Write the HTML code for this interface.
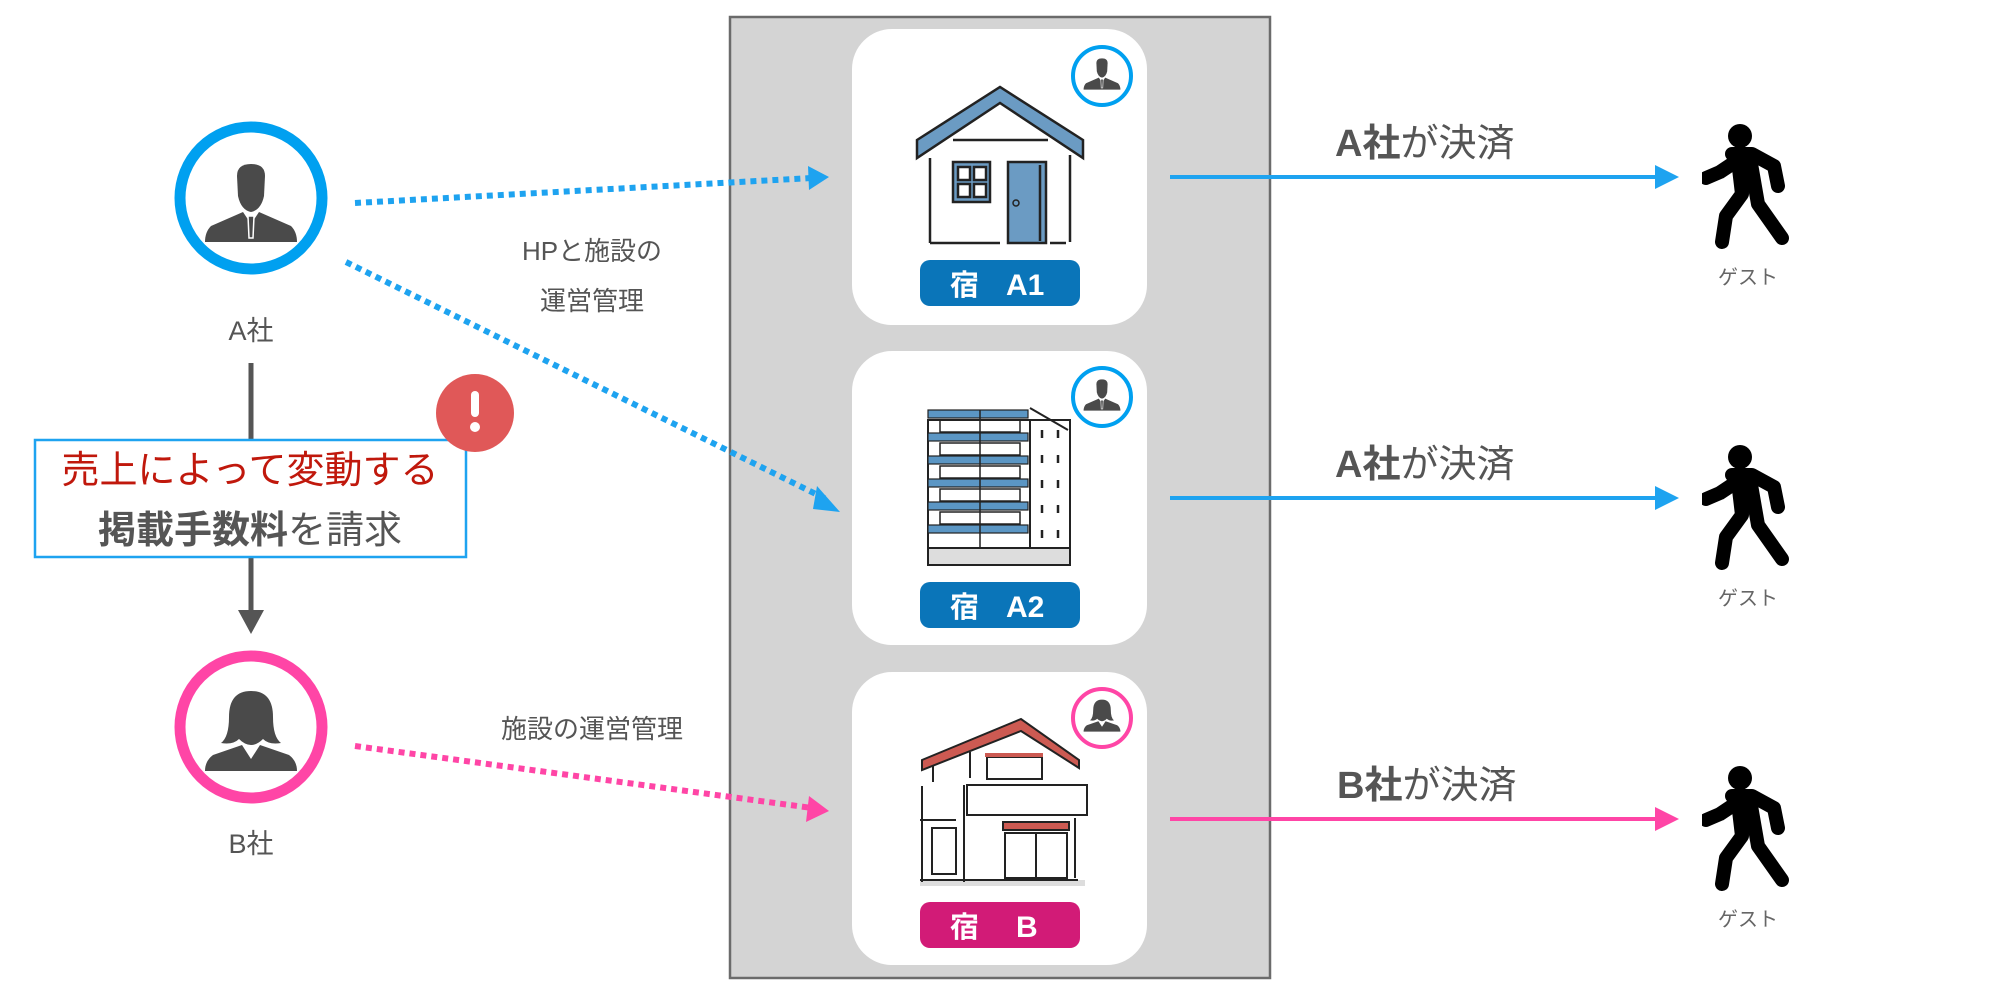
<!DOCTYPE html>
<html><head><meta charset="utf-8"><style>
html,body{margin:0;padding:0;background:#fff;}
svg{display:block;}
text{font-family:"Liberation Sans","Noto Sans CJK JP",sans-serif;}
</style></head><body>
<svg width="1999" height="997" viewBox="0 0 1999 997" xmlns="http://www.w3.org/2000/svg">
<defs>
<symbol id="man" viewBox="-50 -50 100 100">
<path d="M-14,-32 Q-14,-44 0,-44 Q14,-44 14,-32 L13,-12 Q10,2 0,4 Q-10,2 -13,-12 Z" fill="#4a4a4a"/>
<path d="M-8,4 L-40,18 Q-46,24 -46,34 L46,34 Q46,24 40,18 L8,4 L0,16 Z" fill="#4a4a4a"/>
<path d="M-3,8 L3,8 L2,30 L-2,30 Z" fill="#4a4a4a" stroke="#fff" stroke-width="1.5"/>
</symbol>
<symbol id="woman" viewBox="-50 -50 100 100">
<path d="M0,-46 Q-22,-46 -22,-20 Q-22,0 -30,6 Q-18,8 -12,2 Q-6,8 0,8 Q6,8 12,2 Q18,8 30,6 Q22,0 22,-20 Q22,-46 0,-46 Z" fill="#4a4a4a"/>
<path d="M-9,8 L-38,18 Q-46,24 -46,34 L46,34 Q46,24 38,18 L9,8 L0,22 Z" fill="#4a4a4a"/>
</symbol>
<symbol id="walker" viewBox="0 0 94 122">
<circle cx="38" cy="12" r="12" fill="#000"/>
<path d="M30,30 L50,30 L72,42 L76,62 M36,36 L18,48 L4,54 M36,36 L40,70 L24,92 L20,118 M48,34 L56,80 L80,114" fill="none" stroke="#000" stroke-width="14" stroke-linecap="round" stroke-linejoin="round"/>
</symbol>
</defs>

<rect x="730" y="17" width="540" height="961" fill="#d4d4d4" stroke="#6b6b6b" stroke-width="2.5"/>

<rect x="852" y="29" width="295" height="296" rx="40" fill="#fff"/>
<rect x="852" y="351" width="295" height="294" rx="40" fill="#fff"/>
<rect x="852" y="672" width="295" height="293" rx="40" fill="#fff"/>

<g stroke="#222" stroke-width="2.5" fill="none">
<polygon points="917,140 1000,87 1083,140 1083,158 1000,103 917,158" fill="#6b9bc3" stroke="#222"/>
<line x1="930" y1="158" x2="930" y2="243"/><line x1="1070" y1="155" x2="1070" y2="242"/>
<line x1="930" y1="243" x2="1000" y2="243"/><line x1="1050" y1="243" x2="1066" y2="243"/>
<line x1="953" y1="140" x2="1048" y2="140"/>
<rect x="953" y="162" width="37" height="40" fill="#6b9bc3"/>
<rect x="958" y="167" width="12" height="13" fill="#fff"/><rect x="974" y="167" width="12" height="13" fill="#fff"/>
<rect x="958" y="184" width="12" height="13" fill="#fff"/><rect x="974" y="184" width="12" height="13" fill="#fff"/>
<rect x="1008" y="162" width="38" height="81" fill="#6b9bc3"/>
<line x1="1040" y1="165" x2="1040" y2="241"/>
</g>
<circle cx="1016" cy="203" r="3" fill="none" stroke="#222" stroke-width="1.5"/>

<g stroke="#222" stroke-width="2" fill="#fff">
<rect x="928" y="420" width="142" height="145"/>
<line x1="1030" y1="420" x2="1030" y2="565"/>
<rect x="928" y="548" width="142" height="17" fill="#ddd"/>
</g>
<g fill="#5b96c4" stroke="#222" stroke-width="1.2">
<rect x="928" y="410" width="100" height="8"/><rect x="928" y="433" width="100" height="8"/>
<rect x="928" y="456" width="100" height="8"/><rect x="928" y="479" width="100" height="8"/>
<rect x="928" y="502" width="100" height="8"/><rect x="928" y="525" width="100" height="8"/>
</g>
<g stroke="#222" stroke-width="1.5" fill="none">
<rect x="940" y="420" width="80" height="12"/><rect x="940" y="443" width="80" height="12"/>
<rect x="940" y="466" width="80" height="12"/><rect x="940" y="489" width="80" height="12"/>
<rect x="940" y="512" width="80" height="12"/>
<line x1="980" y1="410" x2="980" y2="548"/>
<path d="M1030,408 L1068,430" stroke-width="2"/>
<g stroke-width="2.5"><line x1="1042" y1="430" x2="1042" y2="438"/><line x1="1058" y1="430" x2="1058" y2="438"/>
<line x1="1042" y1="455" x2="1042" y2="463"/><line x1="1058" y1="455" x2="1058" y2="463"/>
<line x1="1042" y1="480" x2="1042" y2="488"/><line x1="1058" y1="480" x2="1058" y2="488"/>
<line x1="1042" y1="505" x2="1042" y2="513"/><line x1="1058" y1="505" x2="1058" y2="513"/>
<line x1="1042" y1="530" x2="1042" y2="538"/><line x1="1058" y1="530" x2="1058" y2="538"/></g>
</g>

<g stroke="#222" stroke-width="2" fill="none">
<rect x="920" y="880" width="165" height="6" fill="#ddd" stroke="none"/>
<polygon points="922,760 1021,719 1079,760 1079,768 1021,731 922,770" fill="#cc5a52"/>
<line x1="933" y1="765" x2="933" y2="782"/>
<line x1="970" y1="752" x2="970" y2="778"/>
<rect x="987" y="757" width="55" height="22"/>
<rect x="967" y="785" width="120" height="30"/>
<line x1="922" y1="786" x2="922" y2="882"/>
<line x1="964" y1="785" x2="964" y2="882"/>
<line x1="920" y1="820" x2="956" y2="820"/>
<rect x="932" y="828" width="24" height="46"/>
<line x1="920" y1="880" x2="1078" y2="880"/>
<line x1="1075" y1="818" x2="1075" y2="878"/>
<rect x="1003" y="822" width="66" height="8" fill="#cc5a52"/>
<rect x="1005" y="833" width="62" height="45"/>
<line x1="1036" y1="833" x2="1036" y2="878"/>
</g>
<rect x="985" y="753" width="58" height="4" fill="#cc5a52"/>

<rect x="920" y="260" width="160" height="46" rx="10" fill="#0a75b9"/>
<text x="950" y="295" font-size="29" font-weight="bold" fill="#fff">宿</text>
<text x="1006" y="295" font-size="30" font-weight="bold" fill="#fff">A1</text>
<rect x="920" y="582" width="160" height="46" rx="10" fill="#0a75b9"/>
<text x="950" y="617" font-size="29" font-weight="bold" fill="#fff">宿</text>
<text x="1006" y="617" font-size="30" font-weight="bold" fill="#fff">A2</text>
<rect x="920" y="902" width="160" height="46" rx="10" fill="#d21b77"/>
<text x="950" y="937" font-size="29" font-weight="bold" fill="#fff">宿</text>
<text x="1016" y="937" font-size="30" font-weight="bold" fill="#fff">B</text>

<circle cx="1102" cy="76" r="29" fill="#fff" stroke="#00a0f0" stroke-width="4"/>
<use href="#man" x="1082" y="56" width="40" height="40"/>
<circle cx="1102" cy="397" r="29" fill="#fff" stroke="#00a0f0" stroke-width="4"/>
<use href="#man" x="1082" y="377" width="40" height="40"/>
<circle cx="1102" cy="718" r="29" fill="#fff" stroke="#ff45a6" stroke-width="4"/>
<use href="#woman" x="1082" y="698" width="40" height="40"/>

<circle cx="251" cy="198" r="71" fill="#fff" stroke="#00a0f0" stroke-width="11"/>
<use href="#man" x="201" y="158" width="100" height="100"/>
<text x="251" y="340" font-size="27" fill="#555" text-anchor="middle">A社</text>
<circle cx="251" cy="727" r="71" fill="#fff" stroke="#ff45a6" stroke-width="11"/>
<use href="#woman" x="201" y="687" width="100" height="100"/>
<text x="251" y="853" font-size="27" fill="#555" text-anchor="middle">B社</text>

<line x1="251" y1="363" x2="251" y2="612" stroke="#555" stroke-width="5"/>
<polygon points="238,610 264,610 251,634" fill="#555"/>

<rect x="35" y="440" width="431" height="117" fill="#fff" stroke="#1ea3f0" stroke-width="2.5"/>
<text x="250" y="483" font-size="38" fill="#c0180c" text-anchor="middle">売上によって変動する</text>
<text x="250" y="543" font-size="38" fill="#555" text-anchor="middle"><tspan font-weight="bold">掲載手数料</tspan>を請求</text>
<circle cx="475" cy="413" r="39" fill="#e05858"/>
<rect x="471" y="391" width="8" height="26" rx="4" fill="#fff"/>
<circle cx="475" cy="427" r="5" fill="#fff"/>

<line x1="355" y1="203" x2="812" y2="178" stroke="#1ea3f0" stroke-width="6" stroke-dasharray="6,5"/>
<polygon points="808,166 829,177 809,190" fill="#1ea3f0"/>
<line x1="346" y1="262" x2="826" y2="499" stroke="#1ea3f0" stroke-width="6" stroke-dasharray="6,5"/>
<polygon points="817,486 840,512 813,509" fill="#1ea3f0"/>
<line x1="355" y1="746" x2="812" y2="808" stroke="#ff45a6" stroke-width="6" stroke-dasharray="6,5"/>
<polygon points="809,796 829,811 806,822" fill="#ff45a6"/>

<text x="592" y="260" font-size="26" fill="#555" text-anchor="middle">HPと施設の</text>
<text x="592" y="310" font-size="26" fill="#555" text-anchor="middle">運営管理</text>
<text x="592" y="738" font-size="26" fill="#555" text-anchor="middle">施設の運営管理</text>

<line x1="1170" y1="177" x2="1660" y2="177" stroke="#1ea3f0" stroke-width="4"/>
<polygon points="1655,165 1679,177 1655,189" fill="#1ea3f0"/>
<text x="1335" y="156" font-size="38" fill="#555"><tspan font-weight="bold">A社</tspan>が決済</text>
<line x1="1170" y1="498" x2="1660" y2="498" stroke="#1ea3f0" stroke-width="4"/>
<polygon points="1655,486 1679,498 1655,510" fill="#1ea3f0"/>
<text x="1335" y="477" font-size="38" fill="#555"><tspan font-weight="bold">A社</tspan>が決済</text>
<line x1="1170" y1="819" x2="1660" y2="819" stroke="#ff45a6" stroke-width="4"/>
<polygon points="1655,807 1679,819 1655,831" fill="#ff45a6"/>
<text x="1337" y="798" font-size="38" fill="#555"><tspan font-weight="bold">B社</tspan>が決済</text>

<use href="#walker" x="1702" y="112" width="94" height="146"/>
<text x="1748" y="284" font-size="20" fill="#666" text-anchor="middle">ゲスト</text>
<use href="#walker" x="1702" y="433" width="94" height="146"/>
<text x="1748" y="605" font-size="20" fill="#666" text-anchor="middle">ゲスト</text>
<use href="#walker" x="1702" y="754" width="94" height="146"/>
<text x="1748" y="926" font-size="20" fill="#666" text-anchor="middle">ゲスト</text>
</svg>
</body></html>
